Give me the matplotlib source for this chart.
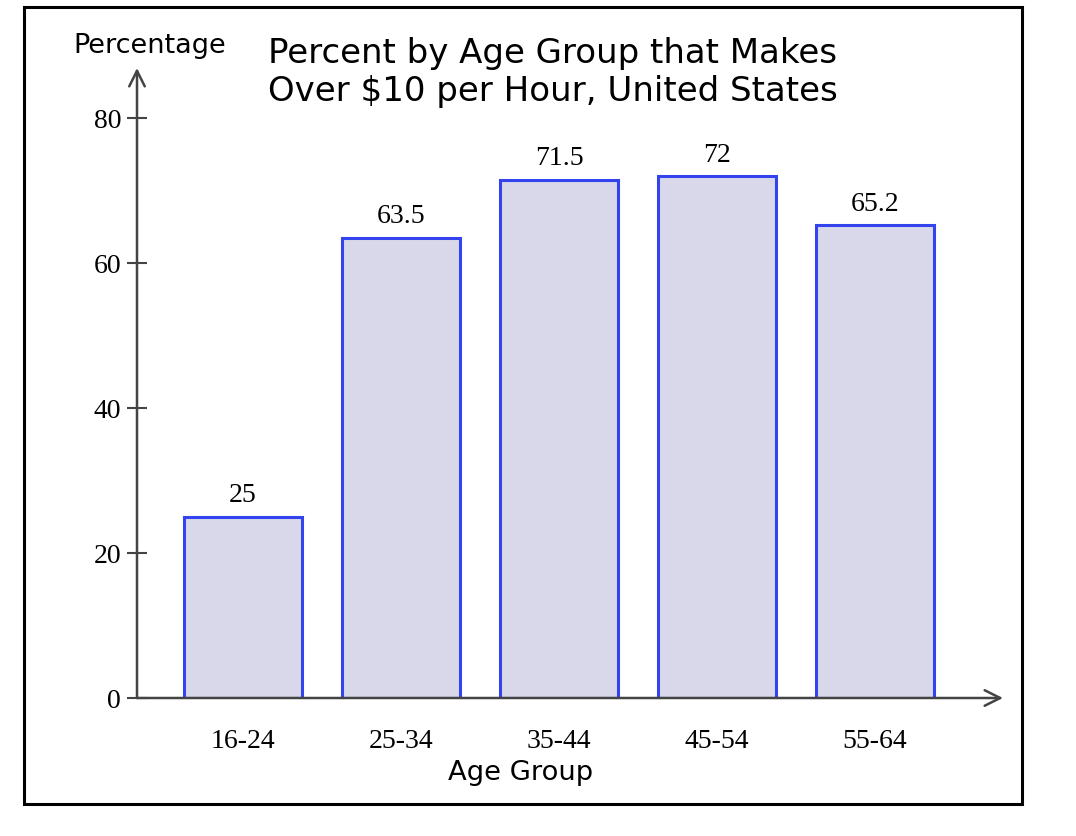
import matplotlib
matplotlib.use("Agg")
import matplotlib.pyplot as plt
from matplotlib.patches import Rectangle

# data
age_groups = ["16-24", "25-34", "35-44", "45-54", "55-64"]
percent = [25, 63.5, 71.5, 72, 65.2]
value_labels = ["25", "63.5", "71.5", "72", "65.2"]
y_ticks = [0, 20, 40, 60, 80]

W, H = 1076, 836
fig = plt.figure(figsize=(W / 100, H / 100), dpi=100)

# outer frame
fig.patches.append(Rectangle((24 / W, 1 - 804 / H), (1022 - 24) / W, (804 - 7) / H,
                             transform=fig.transFigure, fill=False,
                             edgecolor="black", linewidth=2.2))

ax = fig.add_axes([137 / W, 1 - 698 / H, (1003 - 137) / W, (698 - 68) / H])
ax.set_xlim(-0.671, 4.81)
ax.set_ylim(0, 86.9)
for s in ax.spines.values():
    s.set_visible(False)
ax.patch.set_alpha(0)

x = range(len(age_groups))
ax.bar(x, percent, width=0.75, color="#d8d8ea", edgecolor="#3344ee", linewidth=2.2, zorder=2)

for xi, v, lab in zip(x, percent, value_labels):
    ax.annotate(lab, (xi, v), xytext=(0, 6), textcoords="offset points",
                ha="center", va="bottom", fontsize=20, family="Liberation Serif")

# axis lines with open arrows
axcol = "#444444"
ax.annotate("", xy=(0, 1), xytext=(0, 0), xycoords="axes fraction",
            arrowprops=dict(arrowstyle="->", color=axcol, lw=1.8,
                            mutation_scale=28, shrinkA=0, shrinkB=0), zorder=3)
ax.annotate("", xy=(1, 0), xytext=(0, 0), xycoords="axes fraction",
            arrowprops=dict(arrowstyle="->", color=axcol, lw=1.8,
                            mutation_scale=28, shrinkA=0, shrinkB=0), zorder=3)

ax.set_yticks(y_ticks)
ax.set_yticklabels([str(t) for t in y_ticks], fontsize=20, family="Liberation Serif")
ax.tick_params(axis="y", direction="inout", length=15, width=1.5, color=axcol, pad=4)
ax.set_xticks(list(x))
ax.set_xticklabels(age_groups, fontsize=20, family="Liberation Serif")
ax.tick_params(axis="x", length=0, pad=22)

fig.text(521 / W, 1 - 773 / H, "Age Group", ha="center", va="center",
         fontsize=19.7, family="DejaVu Sans")
fig.text(150 / W, 1 - 46 / H, "Percentage", ha="center", va="center",
         fontsize=19.5, family="DejaVu Sans")
fig.text(268 / W, 1 - 37 / H, "Percent by Age Group that Makes\nOver $10 per Hour, United States",
         ha="left", va="top", fontsize=24.5, family="DejaVu Sans", linespacing=1.2)

fig.savefig("out.png", dpi=100)
